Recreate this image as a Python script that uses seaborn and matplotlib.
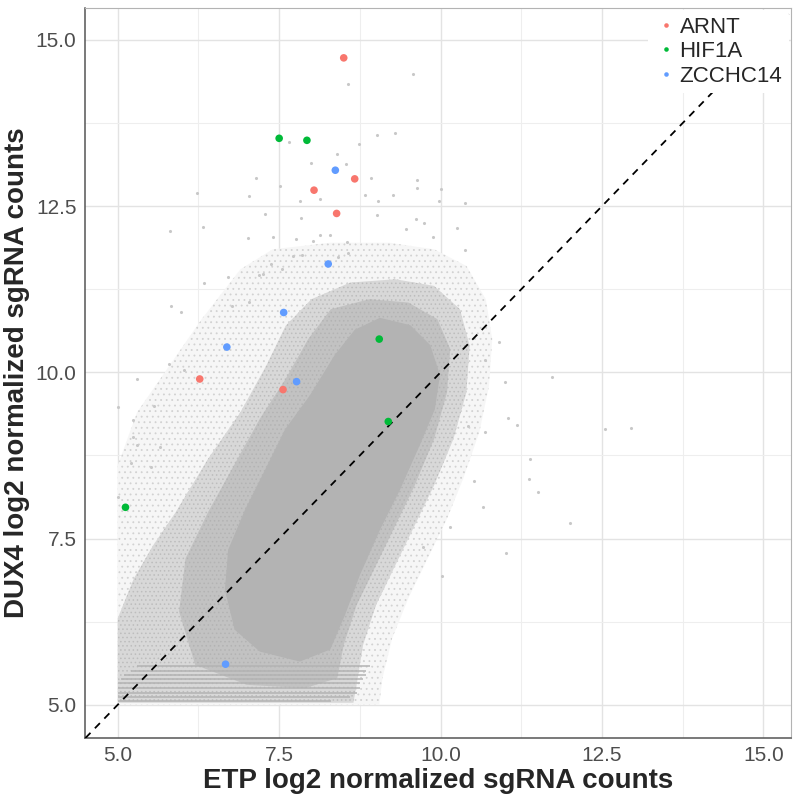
import numpy as np
import pandas as pd
import matplotlib
matplotlib.use("Agg")
import matplotlib.pyplot as plt
import seaborn as sns
from matplotlib.ticker import MultipleLocator, FormatStrFormatter

sns.set_style('whitegrid')
plt.rcParams['font.family'] = ['Liberation Sans', 'DejaVu Sans']
plt.rcParams['hatch.linewidth'] = 0.6

# Highlighted sgRNAs
arnt_x = [8.50, 8.67, 8.04, 8.39, 6.27, 7.56]
arnt_y = [14.73, 12.91, 12.74, 12.39, 9.90, 9.74]
hif1a_x = [7.50, 7.93, 9.05, 9.19, 5.12]
hif1a_y = [13.52, 13.49, 10.50, 9.26, 7.97]
zcchc14_x = [8.37, 8.26, 7.57, 6.69, 7.77, 6.67]
zcchc14_y = [13.04, 11.63, 10.90, 10.38, 9.86, 5.61]

# Background cloud of all sgRNAs: density outlines
halo_x = [6.90, 7.40, 8.30, 9.20, 9.90, 10.40, 10.70, 10.80, 10.75, 10.60, 10.35, 10.10,
          9.80, 9.50, 9.25, 9.10, 9.05, 5.00, 5.00, 5.30, 5.80, 6.30]
halo_y = [11.55, 11.85, 11.95, 11.95, 11.85, 11.60, 11.10, 10.50, 9.80, 9.10, 8.40, 7.80,
          7.20, 6.60, 6.00, 5.40, 5.00, 5.00, 8.60, 9.40, 10.10, 10.80]
mid_x = [7.60, 8.00, 8.60, 9.30, 9.90, 10.30, 10.45, 10.40, 10.20, 9.90, 9.60, 9.30,
         9.00, 8.80, 8.70, 8.65, 5.00, 5.00, 5.25, 5.55, 5.90, 6.40, 6.90, 7.30]
mid_y = [10.70, 11.10, 11.35, 11.40, 11.30, 10.95, 10.40, 9.70, 9.00, 8.30, 7.70, 7.10,
         6.50, 5.90, 5.30, 5.03, 5.03, 6.30, 6.90, 7.40, 7.90, 8.70, 9.40, 10.10]
inner_x = [8.30, 8.90, 9.50, 9.95, 10.15, 10.10, 9.90, 9.60, 9.30, 9.00, 8.70, 8.50,
           8.40, 7.90, 7.00, 6.20, 5.95, 6.05, 6.40, 6.80, 7.20, 7.60, 7.95]
inner_y = [10.95, 11.10, 11.05, 10.80, 10.35, 9.70, 9.00, 8.30, 7.70, 7.10, 6.50, 5.90,
           5.40, 5.25, 5.30, 5.60, 6.40, 7.20, 7.90, 8.60, 9.30, 9.90, 10.50]
core_x = [8.67, 9.06, 9.53, 9.84, 9.99, 9.91, 9.68, 9.37, 9.06, 8.75, 8.52, 8.29,
          7.82, 7.20, 6.81, 6.66, 6.71, 6.97, 7.28, 7.59, 7.98, 8.36]
core_y = [10.64, 10.82, 10.71, 10.41, 9.96, 9.44, 8.91, 8.23, 7.63, 6.95, 6.35, 5.83,
          5.65, 5.80, 6.13, 6.73, 7.33, 7.93, 8.53, 9.14, 9.66, 10.26]

# Scattered individual sgRNAs outside the cloud
out_x = [11.72, 12.55, 12.95, 11.04, 11.18, 10.69, 11.39, 11.37, 11.51, 10.52, 10.66,
         12.00, 11.02, 10.15, 10.02, 9.73, 10.99, 10.42, 10.69, 10.91,
         8.56, 9.57, 9.29, 9.01, 7.65, 8.74, 8.40, 7.99, 8.53, 7.14, 7.51, 7.04, 6.22,
         8.93, 9.64, 9.63, 10.01, 9.27, 8.83, 8.14, 7.82, 9.03, 10.38, 9.97, 5.81, 6.32,
         7.02, 7.28, 7.41, 7.84, 7.76, 8.02, 8.55, 8.29, 9.02, 9.47, 9.62, 9.75, 10.25,
         10.38, 9.89, 6.71, 6.33, 5.82, 5.98, 6.77, 7.04, 7.19, 7.25, 7.38, 7.55, 7.72,
         7.86, 8.14, 8.41, 8.57, 5.00, 5.24, 5.56, 5.30, 5.51, 5.00, 5.20, 5.79, 5.24,
         5.66, 6.02, 5.30]
out_y = [9.93, 9.15, 9.16, 9.32, 9.21, 9.11, 8.70, 8.39, 8.20, 8.36, 7.97,
         7.73, 7.28, 7.67, 6.94, 7.38, 9.86, 9.20, 10.19, 10.46,
         14.33, 14.49, 13.60, 13.57, 13.47, 13.44, 13.29, 13.15, 13.14, 12.92, 12.81, 12.65,
         12.69, 12.92, 12.90, 12.77, 12.76, 12.66, 12.66, 12.60, 12.57, 12.57, 12.55, 12.58,
         12.13, 12.18, 12.02, 12.38, 12.03, 12.32, 12.01, 11.97, 11.96, 12.07, 12.37, 12.15,
         12.31, 12.24, 12.17, 11.84, 12.04, 11.43, 11.35, 11.00, 10.91, 11.00, 11.06, 11.46,
         11.48, 11.63, 11.56, 11.75, 11.76, 12.07, 11.74, 11.80, 9.48, 9.29, 9.49, 8.91,
         8.58, 8.13, 8.63, 10.13, 9.03, 8.88, 10.04, 9.90]

# Count steps at the low end (horizontal stripes)
stripe_y = [5.05, 5.12, 5.18, 5.25, 5.32, 5.38, 5.45, 5.51, 5.58]
stripe_x0 = [5.00, 5.00, 5.00, 5.00, 5.00, 5.05, 5.10, 5.20, 5.30]
stripe_x1 = [8.30, 8.60, 8.70, 8.75, 8.75, 8.80, 8.85, 8.85, 8.90]

genes = pd.DataFrame({
    'ETP': arnt_x + hif1a_x + zcchc14_x,
    'DUX4': arnt_y + hif1a_y + zcchc14_y,
    'gene': ['ARNT'] * len(arnt_x) + ['HIF1A'] * len(hif1a_x) + ['ZCCHC14'] * len(zcchc14_x),
})
outliers = pd.DataFrame({'ETP': out_x, 'DUX4': out_y})
palette = {'ARNT': '#F8766D', 'HIF1A': '#00BA38', 'ZCCHC14': '#619CFF'}

fig, ax = plt.subplots(figsize=(8, 8), dpi=100)
fig.subplots_adjust(left=0.106, right=0.989, top=0.99, bottom=0.0775)

# cloud layers, sparse to dense
ax.fill(halo_x, halo_y, facecolor='#F6F6F6', edgecolor='#D2D2D2', hatch='...', linewidth=0, zorder=1)
ax.fill(mid_x, mid_y, facecolor='#D8D8D8', edgecolor='#BDBDBD', hatch='....', linewidth=0, zorder=2)
ax.fill(inner_x, inner_y, facecolor='#C2C2C2', edgecolor='#B3B3B3', hatch='....', linewidth=0, zorder=3)
ax.fill(core_x, core_y, facecolor='#B3B3B3', edgecolor='#B3B3B3', linewidth=0, zorder=3)
ax.hlines(stripe_y, stripe_x0, stripe_x1, color='#B3B3B3', linewidth=1.1, zorder=3)
sns.scatterplot(data=outliers, x='ETP', y='DUX4', color='#C8C8C8', s=5, linewidth=0,
                ax=ax, zorder=4, legend=False)

ax.axline((5, 5), slope=1, color='black', linestyle=(0, (4, 3.5)), linewidth=1.3, zorder=5)

sns.scatterplot(data=genes, x='ETP', y='DUX4', hue='gene', palette=palette, s=30,
                linewidth=0, ax=ax, zorder=6)

ax.set_xlim(4.49, 15.43)
ax.set_ylim(4.50, 15.48)
ax.xaxis.set_major_locator(MultipleLocator(2.5))
ax.yaxis.set_major_locator(MultipleLocator(2.5))
ax.xaxis.set_minor_locator(MultipleLocator(1.25))
ax.yaxis.set_minor_locator(MultipleLocator(1.25))
ax.grid(which='major', color='#E3E3E3', linewidth=1.0)
ax.grid(which='minor', color='#EEEEEE', linewidth=0.8)
ax.set_axisbelow(True)

ax.set_xlabel('ETP log2 normalized sgRNA counts', fontsize=20, fontweight='bold', labelpad=2)
ax.set_ylabel('DUX4 log2 normalized sgRNA counts', fontsize=20, fontweight='bold', labelpad=4)
ax.tick_params(axis='both', which='major', labelsize=15, labelcolor='#4D4D4D',
               length=4, width=1, color='#333333', direction='out', pad=2)
ax.tick_params(which='minor', length=0)
ax.xaxis.set_major_formatter(FormatStrFormatter('%.1f'))
ax.yaxis.set_major_formatter(FormatStrFormatter('%.1f'))

for side in ['left', 'bottom']:
    ax.spines[side].set_color('#555555')
    ax.spines[side].set_linewidth(1.1)
for side in ['top', 'right']:
    ax.spines[side].set_color('#B3B3B3')
    ax.spines[side].set_linewidth(0.8)

leg = ax.legend(loc='upper right', bbox_to_anchor=(1.0, 1.0), fontsize=16, frameon=True,
                facecolor='white', edgecolor='none', framealpha=1, borderaxespad=0.1,
                handletextpad=0.1, labelspacing=0.15, handlelength=1.0, markerscale=0.6,
                borderpad=0.3)
leg.set_zorder(10)

plt.savefig('out.png', dpi=100)
